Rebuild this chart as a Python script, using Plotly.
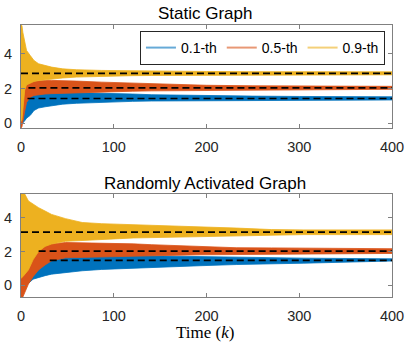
#!/usr/bin/env python3
"""
Quantile tracking: static vs randomly activated graph.
Each coloured band is the envelope of the estimate trajectories,
dashed black lines are the true quantile values.
"""

import plotly.graph_objects as go

# MATLAB default colours
BLUE = '#0072BD'
RED = '#D95319'
YELLOW = '#EDB120'
LEGEND_COLORS = ['rgba(0,114,189,0.6)', 'rgba(217,83,25,0.6)', 'rgba(237,177,32,0.6)']
LABELS = ['0.1-th', '0.5-th', '0.9-th']

# --- Static graph: envelope of trajectories ---
STATIC_K = [0, 1, 2, 4, 6, 10, 14, 19, 26, 33, 45, 60, 87, 120, 141, 200, 250, 300, 400]
STATIC_BLUE_HI = [1.0, 1.1, 1.3, 1.5, 1.6, 1.69, 1.72, 1.75, 1.77, 1.79, 1.78, 1.77, 1.75, 1.68, 1.64, 1.58, 1.56, 1.54, 1.52]
STATIC_BLUE_LO = [-0.1, -0.05, 0.0, 0.15, 0.3, 0.46, 0.74, 0.88, 0.95, 1.03, 1.1, 1.15, 1.22, 1.26, 1.28, 1.31, 1.32, 1.33, 1.34]
STATIC_RED_HI = [1.0, 1.2, 1.5, 2.0, 2.3, 2.4, 2.42, 2.42, 2.45, 2.46, 2.45, 2.42, 2.36, 2.3, 2.26, 2.18, 2.15, 2.13, 2.12]
STATIC_RED_LO = [-0.27, -0.2, 0.0, 0.7, 1.2, 1.5, 1.6, 1.65, 1.68, 1.7, 1.72, 1.75, 1.8, 1.84, 1.86, 1.9, 1.92, 1.93, 1.95]
STATIC_YEL_HI = [5.63, 5.6, 5.2, 4.6, 4.17, 3.88, 3.6, 3.41, 3.31, 3.22, 3.12, 3.07, 3.03, 3.0, 2.99, 2.97, 2.96, 2.95, 2.95]
STATIC_YEL_LO = [0.1, 0.2, 0.7, 1.9, 2.2, 2.3, 2.4, 2.45, 2.5, 2.55, 2.6, 2.65, 2.7, 2.73, 2.74, 2.76, 2.77, 2.78, 2.78]
STATIC_TRUE = [1.42, 2.03, 2.86]
STATIC_TRUE_START = [7, 8, 0]

# --- Randomly activated graph ---
RANDOM_K = [0, 2, 4, 8, 13, 19, 26, 33, 48, 66, 87, 106, 121, 141, 193, 232, 270, 305, 400]
RANDOM_BLUE_HI = [5.42, 4.0, 3.0, 2.3, 2.0, 1.8, 1.66, 1.7, 1.8, 1.8, 1.78, 1.76, 1.76, 1.76, 1.72, 1.66, 1.63, 1.6, 1.56]
RANDOM_BLUE_LO = [-0.5, -0.3, -0.1, 0.1, 0.35, 0.45, 0.56, 0.65, 0.75, 0.85, 0.93, 1.0, 1.03, 1.05, 1.15, 1.22, 1.27, 1.3, 1.43]
RANDOM_RED_HI = [2.0, 2.3, 2.4, 2.5, 2.6, 2.6, 2.5, 2.44, 2.53, 2.52, 2.48, 2.46, 2.45, 2.4, 2.28, 2.22, 2.21, 2.2, 2.16]
RANDOM_RED_LO = [-0.71, -0.71, -0.5, 0.06, 0.5, 0.9, 1.2, 1.44, 1.62, 1.66, 1.68, 1.7, 1.72, 1.74, 1.8, 1.84, 1.85, 1.86, 1.88]
RANDOM_YEL_HI = [5.42, 5.42, 5.42, 5.0, 4.8, 4.6, 4.4, 4.2, 3.95, 3.72, 3.65, 3.62, 3.6, 3.54, 3.45, 3.39, 3.3, 3.28, 3.28]
RANDOM_YEL_LO = [0.4, 0.5, 0.6, 0.9, 1.5, 2.0, 2.3, 2.44, 2.6, 2.66, 2.72, 2.76, 2.8, 2.83, 2.87, 2.93, 2.97, 3.0, 3.0]
RANDOM_TRUE = [1.47, 2.02, 3.15]
RANDOM_TRUE_START = [31, 19, 0]

K_MAX = 400
X_TICKS = [0, 100, 200, 300, 400]
Y_TICKS = [0, 2, 4]

AXIS_COLOR = '#808080'
TEXT_COLOR = '#262626'
SANS = 'Liberation Sans, Arial, sans-serif'


def band(k, hi, lo, color, xa, ya):
    return go.Scatter(
        x=k + k[::-1], y=hi + lo[::-1],
        fill='toself', fillcolor=color,
        line=dict(color=color, width=0.8),
        mode='lines', hoverinfo='skip', showlegend=False,
        xaxis=xa, yaxis=ya,
    )


def true_lines(values, starts, xa, ya):
    traces = []
    for v, s in zip(values, starts):
        traces.append(go.Scatter(
            x=[s, K_MAX], y=[v, v], mode='lines',
            line=dict(color='black', width=1.6, dash='7px,4px'),
            hoverinfo='skip', showlegend=False, xaxis=xa, yaxis=ya,
        ))
    return traces


fig = go.Figure()

# top panel
fig.add_trace(band(STATIC_K, STATIC_BLUE_HI, STATIC_BLUE_LO, BLUE, 'x', 'y'))
fig.add_trace(band(STATIC_K, STATIC_RED_HI, STATIC_RED_LO, RED, 'x', 'y'))
fig.add_trace(band(STATIC_K, STATIC_YEL_HI, STATIC_YEL_LO, YELLOW, 'x', 'y'))
for t in true_lines(STATIC_TRUE, STATIC_TRUE_START, 'x', 'y'):
    fig.add_trace(t)

# bottom panel
fig.add_trace(band(RANDOM_K, RANDOM_BLUE_HI, RANDOM_BLUE_LO, BLUE, 'x2', 'y2'))
fig.add_trace(band(RANDOM_K, RANDOM_RED_HI, RANDOM_RED_LO, RED, 'x2', 'y2'))
fig.add_trace(band(RANDOM_K, RANDOM_YEL_HI, RANDOM_YEL_LO, YELLOW, 'x2', 'y2'))
for t in true_lines(RANDOM_TRUE, RANDOM_TRUE_START, 'x2', 'y2'):
    fig.add_trace(t)

# legend entries (light line samples, like the MATLAB legend)
for name, c in zip(LABELS, LEGEND_COLORS):
    fig.add_trace(go.Scatter(x=[None], y=[None], mode='lines', name=name,
                             line=dict(color=c, width=2), xaxis='x', yaxis='y'))

axis_common = dict(
    showline=True, linecolor=AXIS_COLOR, linewidth=1, mirror='ticks',
    ticks='inside', ticklen=4, tickcolor=AXIS_COLOR, tickwidth=1,
    showgrid=False, zeroline=False, automargin=False,
    tickfont=dict(family=SANS, size=14.5, color=TEXT_COLOR),
)

fig.update_layout(
    width=406, height=348,
    margin=dict(l=21, r=14, t=25, b=51, autoexpand=False),
    plot_bgcolor='white', paper_bgcolor='white',
    xaxis=dict(domain=[0, 1], range=[0, K_MAX], tickvals=X_TICKS, anchor='y',
               ticklabelstandoff=6, **axis_common),
    yaxis=dict(domain=[0.621, 1], range=[-0.27, 5.63], tickvals=Y_TICKS, anchor='x',
               ticklabelstandoff=5, **axis_common),
    xaxis2=dict(domain=[0, 1], range=[0, K_MAX], tickvals=X_TICKS, anchor='y2',
                ticklabelstandoff=6, **axis_common),
    yaxis2=dict(domain=[0, 0.379], range=[-0.71, 5.42], tickvals=Y_TICKS, anchor='x2',
                ticklabelstandoff=5, **axis_common),
    showlegend=True,
    legend=dict(
        orientation='h', x=0.981, y=0.978, xanchor='right', yanchor='top',
        bgcolor='white', bordercolor=TEXT_COLOR, borderwidth=1,
        font=dict(family=SANS, size=14, color='black'),
        itemwidth=30, tracegroupgap=0,
    ),
    annotations=[
        dict(text='Static Graph', xref='paper', yref='paper', x=0.497, y=1.042,
             xanchor='center', yanchor='middle', showarrow=False,
             font=dict(family=SANS, size=17, color='black')),
        dict(text='Randomly Activated Graph', xref='paper', yref='paper', x=0.497, y=0.417,
             xanchor='center', yanchor='middle', showarrow=False,
             font=dict(family=SANS, size=17, color='black')),
        dict(text='Time (<i>k</i>)', xref='paper', yref='paper', x=0.495, y=-0.132,
             xanchor='center', yanchor='middle', showarrow=False,
             font=dict(family='Liberation Serif, serif', size=17, color='black')),
    ],
)

# the page body has a default 8px margin; drop it so the figure sits at the corner
fig.write_html("out.html", config={'displayModeBar': False},
               post_script="document.body.style.margin='0';")
